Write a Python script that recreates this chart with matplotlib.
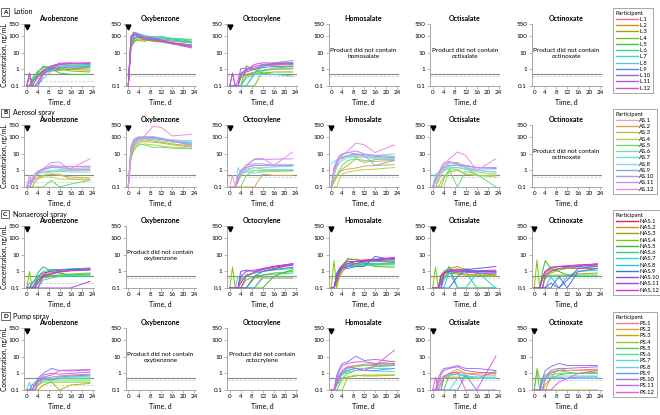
import matplotlib
matplotlib.use('Agg')
import matplotlib.pyplot as plt
from matplotlib.lines import Line2D

plt.rcParams['font.family'] = ['Liberation Sans Narrow', 'Lato', 'DejaVu Sans']

# ---------------- data ----------------
days = [0, 1, 2, 3, 4, 6, 9, 12, 16, 23]
ingredients = ['Avobenzone', 'Oxybenzone', 'Octocrylene', 'Homosalate', 'Octisalate', 'Octinoxate']
products = ['Lotion', 'Aerosol spray', 'Nonaerosol spray', 'Pump spray']
panel_letters = ['A', 'B', 'C', 'D']
prefixes = ['L', 'AS', 'NAS', 'PS']
y_ticks = [0.1, 1, 10, 100, 550]
y_ticklabels = ['0.1', '1', '10', '100', '550']
x_ticks = [0, 4, 8, 12, 16, 20, 24]
threshold = 0.5
lloq = [0.2, 0.4, 0.4, 0.4, 0.4, 0.4]

lotion_avobenzone = [
    [0.1, 0.1, 0.2, 0.3, 0.5, 0.9, 1.2, 1.6, 1.8, 2.0],
    [0.1, 0.1, 0.1, 0.2, 0.3, 0.6, 0.9, 1.0, 1.1, 1.2],
    [0.1, 0.1, 0.15, 0.3, 0.4, 0.7, 0.8, 0.9, 1.0, 0.9],
    [0.1, 0.3, 0.2, 0.3, 0.6, 1.6, 1.3, 1.1, 0.8, 0.7],
    [0.1, 0.1, 0.3, 0.5, 0.7, 1.4, 1.1, 0.6, 0.5, 0.5],
    [0.1, 0.1, 0.2, 0.4, 0.8, 1.2, 1.5, 2.0, 1.8, 2.0],
    [0.1, 0.1, 0.1, 0.1, 0.2, 0.5, 1.0, 1.3, 1.2, 1.4],
    [0.1, 0.1, 0.1, 0.1, 0.1, 0.3, 0.8, 1.5, 1.6, 1.7],
    [0.1, 0.1, 0.2, 0.3, 0.4, 0.8, 1.1, 1.2, 1.4, 1.5],
    [0.1, 0.6, 0.1, 0.2, 0.4, 0.9, 1.7, 2.2, 2.3, 2.4],
    [0.1, 0.1, 0.1, 0.1, 0.1, 0.5, 1.2, 2.0, 2.2, 2.6],
    [0.1, 0.6, 0.1, 0.1, 0.15, 0.7, 1.4, 2.4, 2.5, 2.2],
]
lotion_oxybenzone = [
    [0.1, 60, 120, 150, 130, 90, 70, 60, 50, 40],
    [0.1, 40, 70, 90, 80, 60, 55, 50, 40, 30],
    [0.1, 30, 50, 60, 70, 60, 50, 45, 35, 25],
    [0.1, 20, 40, 60, 55, 50, 70, 100, 70, 50],
    [0.1, 50, 80, 90, 100, 70, 60, 70, 60, 45],
    [0.1, 70, 150, 140, 120, 100, 90, 80, 70, 60],
    [0.1, 90, 180, 160, 140, 110, 95, 90, 75, 65],
    [0.1, 40, 100, 130, 110, 90, 80, 70, 55, 40],
    [0.1, 25, 60, 80, 90, 70, 60, 50, 40, 30],
    [0.1, 60, 110, 120, 100, 80, 70, 55, 40, 25],
    [0.1, 80, 130, 110, 90, 70, 60, 50, 35, 20],
    [0.1, 100, 170, 140, 120, 90, 80, 60, 40, 22],
]
lotion_octocrylene = [
    [0.1, 0.1, 0.1, 0.1, 0.4, 0.8, 1.2, 1.6, 1.8, 2.0],
    [0.1, 0.1, 0.1, 0.1, 0.3, 0.5, 0.7, 0.9, 1.0, 1.1],
    [0.1, 0.1, 0.1, 0.1, 0.1, 0.4, 0.6, 0.6, 0.7, 0.7],
    [0.1, 0.1, 0.1, 0.1, 0.1, 0.1, 0.1, 0.8, 1.2, 1.5],
    [0.1, 0.1, 0.1, 0.1, 0.1, 1.6, 1.0, 0.6, 0.5, 0.5],
    [0.1, 0.1, 0.1, 0.1, 0.1, 0.1, 0.6, 1.5, 2.5, 3.5],
    [0.1, 0.1, 0.1, 0.1, 0.1, 0.1, 0.5, 0.9, 1.0, 1.2],
    [0.1, 0.1, 0.1, 0.1, 0.1, 0.3, 0.5, 0.5, 0.5, 0.4],
    [0.1, 0.1, 0.1, 0.1, 0.4, 0.7, 1.0, 1.3, 1.5, 1.6],
    [0.1, 0.6, 0.1, 0.1, 0.5, 1.0, 1.5, 2.0, 2.2, 2.4],
    [0.1, 0.1, 0.1, 0.2, 1.1, 1.2, 1.0, 1.8, 2.0, 2.2],
    [0.1, 0.6, 0.1, 0.1, 0.6, 0.9, 2.0, 2.5, 2.4, 2.6],
]
aerosol_avobenzone = [
    [0.1, 0.3, 0.2, 0.5, 0.8, 1.2, 1.5, 1.4, 1.3, 1.4],
    [0.1, 0.1, 0.1, 0.2, 0.3, 0.5, 0.6, 0.5, 0.4, 0.35],
    [0.1, 0.1, 0.2, 0.3, 0.4, 0.5, 0.6, 0.6, 0.3, 0.3],
    [0.1, 0.1, 0.1, 0.2, 0.3, 0.4, 0.4, 0.3, 0.3, 0.25],
    [0.1, 0.1, 0.1, 0.1, 0.1, 0.1, 0.25, 0.1, 0.15, 0.25],
    [0.1, 0.2, 0.3, 0.7, 0.8, 0.7, 0.8, 0.9, 0.8, 0.8],
    [0.1, 0.2, 0.3, 0.4, 0.6, 0.9, 1.0, 1.1, 1.1, 1.0],
    [0.1, 0.3, 0.4, 0.5, 0.6, 0.8, 0.9, 1.0, 1.0, 1.1],
    [0.1, 0.2, 0.3, 0.5, 0.8, 1.1, 1.5, 1.6, 1.7, 1.8],
    [0.1, 0.1, 0.2, 0.4, 0.7, 1.2, 1.8, 1.8, 1.7, 1.6],
    [0.1, 0.1, 0.3, 0.5, 0.9, 1.3, 3.0, 3.2, 1.0, 1.2],
    [0.1, 0.5, 0.2, 0.4, 0.8, 1.1, 2.0, 1.5, 1.3, 5.0],
]
aerosol_oxybenzone = [
    [0.1, 20, 60, 80, 90, 100, 90, 80, 60, 40],
    [0.1, 10, 30, 50, 60, 70, 60, 50, 40, 30],
    [0.1, 8, 25, 40, 50, 55, 50, 45, 35, 25],
    [0.1, 5, 15, 25, 35, 40, 35, 30, 25, 22],
    [0.1, 6, 18, 30, 40, 35, 25, 25, 22, 20],
    [0.1, 12, 40, 60, 70, 80, 70, 60, 50, 45],
    [0.1, 25, 70, 90, 100, 100, 90, 80, 70, 60],
    [0.1, 30, 80, 100, 110, 90, 80, 75, 65, 55],
    [0.1, 15, 50, 70, 80, 90, 85, 75, 60, 45],
    [0.1, 20, 60, 80, 100, 110, 100, 80, 60, 35],
    [0.1, 18, 50, 70, 90, 100, 110, 90, 60, 30],
    [0.1, 15, 40, 60, 80, 120, 450, 400, 120, 150],
]
aerosol_octocrylene = [
    [0.1, 0.5, 0.1, 0.3, 0.8, 1.5, 2.0, 2.0, 1.8, 2.0],
    [0.1, 0.1, 0.1, 0.1, 0.1, 0.1, 0.1, 0.6, 0.5, 0.5],
    [0.1, 0.1, 0.1, 0.2, 0.5, 1.0, 1.5, 1.2, 1.0, 1.0],
    [0.1, 0.1, 0.1, 0.1, 0.1, 0.1, 0.1, 0.1, 0.1, 0.1],
    [0.1, 0.1, 0.1, 0.1, 0.1, 0.5, 1.0, 0.9, 0.9, 1.0],
    [0.1, 0.1, 0.1, 0.5, 0.7, 0.9, 1.0, 1.0, 1.1, 1.1],
    [0.1, 0.1, 0.1, 1.5, 0.6, 0.8, 0.7, 0.8, 0.9, 0.9],
    [0.1, 0.1, 0.1, 0.3, 0.6, 1.2, 1.5, 1.5, 1.6, 1.8],
    [0.1, 0.1, 0.1, 0.2, 0.8, 1.5, 2.0, 2.0, 2.1, 2.2],
    [0.1, 0.1, 0.1, 0.3, 0.9, 2.0, 2.5, 2.5, 2.0, 2.0],
    [0.1, 0.1, 0.1, 0.4, 1.0, 2.0, 4.5, 4.5, 4.8, 5.0],
    [0.1, 0.1, 0.1, 0.2, 0.8, 2.0, 5.0, 5.5, 2.0, 13],
]
aerosol_homosalate = [
    [0.1, 1.0, 3.0, 5.0, 6.0, 7.0, 8.0, 7.0, 6.0, 6.0],
    [0.1, 0.3, 0.5, 0.8, 1.0, 1.2, 1.4, 1.8, 2.0, 2.2],
    [0.1, 0.2, 0.4, 0.8, 1.2, 2.0, 5.0, 4.0, 3.5, 4.0],
    [0.1, 0.1, 0.1, 0.3, 0.6, 0.8, 1.0, 1.1, 1.2, 1.5],
    [0.1, 0.2, 0.5, 1.0, 2.0, 4.0, 5.0, 3.0, 4.5, 5.0],
    [0.1, 0.5, 1.5, 3.0, 5.0, 8.0, 6.0, 6.5, 5.0, 4.5],
    [2.5, 3.5, 4.0, 5.0, 6.0, 8.0, 9.0, 9.0, 8.0, 10.0],
    [0.1, 1.0, 2.0, 3.0, 4.0, 6.0, 7.0, 7.0, 6.0, 5.0],
    [0.1, 1.2, 3.0, 5.0, 6.0, 8.0, 10.0, 8.0, 2.0, 4.0],
    [0.1, 1.5, 4.0, 8.0, 10.0, 12.0, 15.0, 10.0, 8.0, 7.0],
    [0.1, 1.0, 3.0, 6.0, 9.0, 12.0, 10.0, 9.0, 7.0, 6.0],
    [0.1, 0.8, 2.0, 5.0, 8.0, 15.0, 45.0, 35.0, 12.0, 35.0],
]
aerosol_octisalate = [
    [0.1, 0.3, 0.5, 1.0, 1.5, 2.0, 2.0, 1.5, 1.0, 0.8],
    [0.1, 0.1, 0.2, 0.5, 1.0, 3.0, 3.0, 1.5, 0.5, 0.5],
    [0.1, 0.1, 0.1, 0.2, 0.4, 0.8, 1.0, 0.6, 0.5, 0.5],
    [0.1, 0.1, 0.1, 0.1, 0.1, 1.0, 1.2, 0.6, 0.5, 0.4],
    [0.1, 0.1, 0.1, 0.1, 0.3, 1.2, 0.1, 0.9, 0.6, 0.1],
    [0.1, 0.1, 0.3, 0.6, 1.0, 1.3, 1.5, 1.2, 0.8, 0.6],
    [0.1, 0.5, 0.6, 0.8, 1.0, 1.5, 1.5, 1.2, 1.0, 0.8],
    [0.1, 0.6, 0.8, 1.0, 1.2, 1.8, 2.0, 1.5, 1.2, 1.2],
    [0.1, 0.3, 0.6, 1.0, 1.5, 2.0, 2.2, 1.8, 1.5, 1.4],
    [0.1, 0.2, 0.5, 1.2, 2.0, 3.0, 2.5, 2.0, 1.5, 1.3],
    [0.1, 0.2, 0.6, 1.5, 3.0, 3.5, 2.5, 2.0, 1.5, 1.5],
    [0.1, 0.2, 0.5, 1.0, 2.0, 5.0, 13.0, 8.0, 1.0, 5.0],
]
nonaerosol_avobenzone = [
    [0.1, 0.1, 0.2, 0.3, 0.5, 0.8, 1.0, 1.2, 1.4, 1.6],
    [0.1, 0.1, 0.1, 0.2, 0.4, 0.6, 0.8, 1.0, 1.2, 1.5],
    [0.1, 0.1, 0.1, 0.1, 0.2, 0.4, 0.5, 0.6, 0.6, 0.7],
    [0.1, 1.0, 0.1, 0.1, 0.3, 0.5, 0.6, 0.6, 0.7, 0.8],
    [0.1, 0.1, 0.2, 0.3, 0.8, 1.9, 1.0, 0.8, 0.6, 0.6],
    [0.1, 0.1, 0.1, 0.2, 0.4, 0.6, 0.6, 0.5, 0.5, 0.5],
    [0.1, 0.1, 0.1, 0.1, 0.1, 0.3, 0.4, 0.5, 0.6, 0.7],
    [0.1, 0.2, 0.2, 0.3, 0.5, 1.0, 1.2, 1.3, 1.4, 1.5],
    [0.1, 0.1, 0.1, 0.1, 0.2, 0.6, 1.3, 1.2, 1.3, 1.4],
    [0.1, 0.1, 0.1, 0.15, 0.3, 0.5, 0.7, 0.9, 1.1, 1.3],
    [0.1, 0.1, 0.1, 0.1, 0.1, 0.1, 0.1, 0.1, 0.1, 0.25],
    [0.1, 0.1, 0.1, 0.1, 0.1, 0.5, 0.8, 1.0, 1.1, 1.2],
]
nonaerosol_octocrylene = [
    [0.1, 0.1, 0.1, 0.1, 0.2, 0.6, 0.8, 1.0, 1.5, 2.5],
    [0.1, 0.1, 0.1, 0.1, 0.1, 0.1, 0.1, 0.4, 0.4, 0.4],
    [0.1, 0.1, 0.1, 0.1, 0.1, 0.1, 0.4, 0.5, 0.5, 0.5],
    [0.1, 1.8, 0.1, 0.1, 0.1, 0.3, 0.5, 0.6, 0.8, 1.0],
    [0.1, 0.1, 0.1, 0.1, 0.1, 0.1, 0.1, 0.1, 0.5, 1.3],
    [0.1, 0.1, 0.1, 0.1, 0.3, 0.5, 0.5, 0.6, 0.7, 0.8],
    [0.1, 0.1, 0.1, 0.5, 0.4, 0.6, 0.8, 1.0, 1.2, 1.5],
    [0.1, 0.1, 0.1, 0.1, 0.1, 0.1, 0.1, 0.5, 0.5, 0.5],
    [0.1, 0.1, 0.1, 0.1, 0.1, 0.1, 0.5, 1.0, 1.3, 1.8],
    [0.1, 0.1, 0.1, 0.1, 1.0, 1.2, 1.0, 1.3, 1.8, 2.5],
    [0.1, 0.1, 0.1, 0.1, 0.5, 1.0, 1.2, 1.5, 2.0, 3.0],
    [0.1, 0.1, 0.1, 0.1, 0.1, 0.5, 0.9, 1.3, 2.0, 2.8],
]
nonaerosol_homosalate = [
    [0.1, 0.1, 0.3, 0.8, 1.5, 3.0, 4.0, 4.0, 4.5, 5.0],
    [0.1, 0.1, 0.5, 1.5, 2.5, 5.0, 5.5, 4.5, 4.0, 4.0],
    [0.1, 0.1, 0.2, 0.5, 1.0, 2.0, 2.5, 3.0, 3.0, 3.5],
    [0.1, 4.5, 0.1, 0.5, 1.0, 2.0, 2.2, 2.4, 2.5, 3.0],
    [0.1, 0.1, 0.3, 1.0, 2.0, 6.0, 5.0, 3.0, 2.0, 1.8],
    [0.1, 0.1, 0.5, 1.2, 2.0, 3.0, 3.0, 2.5, 2.5, 2.5],
    [0.1, 0.1, 0.4, 1.0, 1.5, 2.0, 2.0, 2.5, 3.0, 3.0],
    [0.1, 0.1, 0.6, 1.5, 1.8, 2.5, 3.0, 3.5, 4.0, 4.0],
    [0.1, 0.1, 0.8, 1.5, 2.0, 1.5, 2.0, 2.0, 8.0, 5.0],
    [0.1, 0.1, 0.4, 1.0, 1.5, 2.0, 3.0, 4.0, 5.0, 6.0],
    [0.1, 0.1, 0.5, 1.2, 2.0, 4.0, 4.0, 4.5, 5.0, 6.5],
    [0.1, 0.1, 0.3, 0.8, 1.5, 3.0, 4.0, 5.0, 5.5, 7.0],
]
nonaerosol_octisalate = [
    [0.1, 0.1, 0.1, 0.6, 0.8, 1.2, 1.4, 1.0, 1.0, 1.0],
    [0.1, 0.1, 0.1, 0.5, 1.0, 1.5, 2.0, 1.2, 0.8, 0.6],
    [0.1, 0.1, 0.1, 0.1, 0.5, 0.8, 0.7, 0.6, 0.6, 0.6],
    [0.1, 1.8, 0.1, 0.1, 0.4, 1.0, 0.8, 0.7, 0.6, 0.5],
    [0.1, 0.1, 0.1, 0.3, 0.6, 2.0, 0.1, 0.1, 0.1, 0.1],
    [0.1, 0.1, 0.1, 0.2, 1.0, 1.5, 1.2, 1.0, 0.1, 0.1],
    [0.1, 0.1, 0.1, 0.1, 0.3, 0.8, 1.0, 1.5, 1.0, 0.1],
    [0.1, 0.1, 0.1, 0.1, 0.1, 1.0, 0.1, 0.1, 0.8, 0.7],
    [0.1, 0.1, 0.1, 0.1, 0.1, 0.1, 0.5, 1.2, 1.0, 0.9],
    [0.1, 0.1, 0.1, 0.5, 0.8, 1.0, 1.2, 1.3, 1.5, 2.0],
    [0.1, 0.1, 0.1, 0.1, 0.7, 1.0, 0.9, 1.0, 1.1, 1.2],
    [0.1, 0.1, 0.1, 0.2, 0.8, 1.2, 1.0, 0.9, 0.8, 0.8],
]
nonaerosol_octinoxate = [
    [0.1, 0.1, 0.1, 0.5, 1.0, 1.5, 2.0, 2.0, 2.2, 2.5],
    [0.1, 0.1, 0.1, 0.3, 0.8, 1.2, 1.5, 1.5, 1.5, 1.5],
    [0.1, 0.1, 0.1, 0.1, 0.4, 0.6, 0.6, 0.6, 0.7, 0.8],
    [0.1, 5.0, 0.1, 0.1, 0.5, 0.8, 1.2, 1.5, 2.0, 3.0],
    [0.1, 0.1, 0.1, 1.0, 4.5, 1.5, 1.0, 0.6, 0.5, 0.5],
    [0.1, 0.1, 0.1, 0.5, 0.6, 0.5, 0.5, 0.5, 0.6, 0.6],
    [0.1, 0.1, 0.1, 0.1, 0.5, 1.0, 1.5, 1.6, 1.8, 2.0],
    [0.1, 0.1, 0.1, 0.1, 0.1, 0.5, 0.1, 0.5, 1.0, 1.2],
    [0.1, 0.1, 0.1, 0.1, 0.1, 0.1, 0.5, 0.1, 1.0, 1.5],
    [0.1, 0.1, 0.1, 0.1, 0.1, 0.2, 0.1, 0.3, 1.5, 2.0],
    [0.1, 0.1, 0.1, 0.4, 1.0, 1.8, 2.0, 2.2, 2.5, 2.8],
    [0.1, 0.1, 0.1, 0.1, 0.6, 1.0, 1.5, 1.8, 2.0, 2.5],
]
pump_avobenzone = [
    [0.1, 0.1, 0.1, 0.2, 0.3, 0.5, 0.6, 0.7, 0.8, 0.9],
    [0.1, 0.1, 0.1, 0.1, 0.2, 0.4, 0.5, 0.5, 0.5, 0.5],
    [0.1, 0.1, 0.1, 0.1, 0.1, 0.2, 0.3, 0.1, 0.2, 0.25],
    [0.1, 0.1, 0.1, 0.2, 0.3, 0.4, 0.4, 0.4, 0.4, 0.4],
    [0.1, 0.1, 0.1, 0.1, 0.2, 0.3, 0.3, 0.3, 0.3, 0.3],
    [0.1, 0.1, 0.2, 0.3, 0.4, 0.5, 0.5, 0.5, 0.5, 0.5],
    [0.1, 0.1, 0.2, 0.3, 0.3, 0.4, 0.4, 0.5, 0.6, 0.6],
    [0.1, 0.3, 0.1, 0.2, 0.4, 0.6, 0.5, 0.5, 0.6, 0.7],
    [0.1, 0.1, 0.2, 0.2, 0.3, 0.5, 0.4, 0.6, 0.7, 0.8],
    [0.1, 0.1, 0.1, 0.2, 0.5, 1.0, 2.0, 1.5, 1.6, 1.7],
    [0.1, 0.1, 0.1, 0.2, 0.4, 0.8, 1.0, 0.9, 1.0, 1.2],
    [0.1, 0.1, 0.1, 0.1, 0.3, 0.6, 0.8, 1.5, 1.4, 1.6],
]
pump_homosalate = [
    [0.1, 0.1, 0.3, 0.8, 1.5, 2.5, 3.0, 3.0, 3.5, 4.0],
    [0.1, 0.1, 0.2, 0.5, 1.0, 2.0, 3.0, 3.5, 4.0, 5.5],
    [0.1, 0.1, 0.2, 0.3, 0.5, 0.6, 0.7, 0.8, 0.8, 0.8],
    [0.1, 0.1, 0.1, 0.1, 0.1, 0.6, 0.8, 0.7, 0.7, 0.8],
    [0.1, 0.1, 0.1, 0.2, 0.5, 1.0, 1.5, 2.0, 2.5, 3.0],
    [0.1, 0.1, 0.3, 0.8, 1.2, 2.0, 2.5, 3.0, 3.0, 3.0],
    [0.1, 0.1, 0.2, 0.5, 0.8, 1.2, 1.5, 1.5, 1.4, 1.3],
    [0.1, 0.1, 0.4, 0.8, 1.0, 1.5, 2.0, 2.0, 2.0, 2.0],
    [0.1, 0.1, 0.2, 0.5, 1.0, 1.5, 2.0, 1.5, 1.5, 2.0],
    [0.1, 0.1, 0.8, 2.0, 4.0, 5.0, 11.0, 6.0, 7.0, 5.0],
    [0.1, 0.1, 0.5, 1.5, 3.0, 4.0, 5.0, 5.0, 4.0, 3.5],
    [0.1, 0.1, 0.3, 0.8, 1.5, 2.5, 2.0, 1.5, 3.0, 25.0],
]
pump_octisalate = [
    [0.1, 0.1, 0.2, 0.5, 0.7, 1.0, 1.2, 1.0, 0.8, 0.8],
    [0.1, 0.1, 0.1, 0.3, 0.6, 1.0, 1.8, 1.0, 1.0, 1.2],
    [0.1, 0.1, 0.1, 0.1, 0.5, 0.6, 0.6, 0.5, 0.5, 0.5],
    [0.1, 0.1, 0.1, 0.1, 0.1, 0.1, 0.1, 0.1, 0.1, 0.1],
    [0.1, 0.1, 0.1, 0.1, 0.1, 0.8, 1.0, 0.6, 0.5, 1.3],
    [0.1, 0.1, 0.1, 0.3, 0.5, 0.8, 0.9, 0.7, 0.6, 0.6],
    [0.1, 0.1, 0.1, 0.2, 0.5, 0.7, 1.0, 0.8, 0.5, 0.5],
    [0.1, 0.1, 0.1, 0.1, 0.1, 0.1, 0.5, 0.6, 0.6, 0.5],
    [0.1, 0.1, 0.1, 0.1, 0.1, 0.1, 0.1, 0.8, 0.1, 0.1],
    [0.1, 0.1, 0.5, 1.2, 2.0, 2.2, 3.0, 2.0, 2.0, 1.5],
    [0.1, 0.1, 0.3, 0.8, 1.5, 2.0, 2.5, 1.5, 1.2, 1.0],
    [0.1, 0.6, 0.1, 0.1, 0.6, 1.0, 1.2, 0.1, 0.1, 11.0],
]
pump_octinoxate = [
    [0.1, 0.1, 0.1, 0.3, 0.6, 1.0, 1.5, 1.5, 1.6, 1.8],
    [0.1, 0.1, 0.1, 0.1, 0.1, 0.5, 2.0, 1.5, 1.5, 1.6],
    [0.1, 0.1, 0.1, 0.1, 0.2, 0.5, 0.8, 1.0, 1.0, 1.2],
    [0.1, 2.0, 0.5, 0.1, 0.1, 0.1, 0.1, 0.1, 0.1, 0.1],
    [0.1, 1.5, 0.1, 0.5, 0.8, 1.2, 1.5, 1.2, 1.0, 1.0],
    [0.1, 0.1, 0.1, 0.3, 0.5, 0.8, 1.0, 1.0, 1.0, 1.0],
    [0.1, 0.1, 0.1, 0.3, 0.5, 0.6, 0.7, 0.7, 0.7, 0.7],
    [0.1, 0.1, 0.1, 0.1, 0.5, 0.6, 0.6, 0.5, 0.5, 0.5],
    [0.1, 0.1, 0.1, 0.5, 0.5, 0.5, 0.5, 0.5, 0.6, 0.6],
    [0.1, 0.1, 0.1, 0.5, 1.5, 2.5, 4.0, 3.0, 3.0, 3.0],
    [0.1, 0.1, 0.1, 0.1, 0.5, 1.5, 2.0, 2.0, 2.2, 2.5],
    [0.1, 0.1, 0.1, 0.1, 0.1, 0.1, 0.3, 0.5, 1.0, 1.5],
]

panels = [
    [lotion_avobenzone, lotion_oxybenzone, lotion_octocrylene, None, None, None],
    [aerosol_avobenzone, aerosol_oxybenzone, aerosol_octocrylene, aerosol_homosalate, aerosol_octisalate, None],
    [nonaerosol_avobenzone, None, nonaerosol_octocrylene, nonaerosol_homosalate, nonaerosol_octisalate, nonaerosol_octinoxate],
    [pump_avobenzone, None, None, pump_homosalate, pump_octisalate, pump_octinoxate],
]

# ---------------- styles ----------------
palettes = [
    ['#e8708a', '#c8901e', '#a8a000', '#78c010', '#3cc83c', '#3cd888', '#3cd8c0', '#50c8ee', '#4c8ee0', '#8c6ce0', '#b85ae0', '#e048d8'],
    ['#f4a0b4', '#d8a850', '#c0b840', '#a8d850', '#70d870', '#70e0a8', '#70e0d0', '#88d8f4', '#88a8f0', '#a898f0', '#c890f0', '#f088e8'],
    ['#dc2848', '#e08818', '#a8a000', '#80c800', '#30c030', '#30d080', '#30d8c8', '#30c0f0', '#3080e0', '#8050e0', '#b040e0', '#e030d0'],
    ['#f07890', '#e8a040', '#b8b000', '#88d020', '#50d050', '#50e090', '#50e0d0', '#60d0f8', '#6098f0', '#9878f0', '#c068f0', '#f058e0'],
]

W, H = 660, 415
fig = plt.figure(figsize=(W / 100, H / 100), dpi=100)
col_left = [24, 125.5, 227, 328.5, 430, 531.5]
row_top = [24, 125, 226, 328]
ax_w, ax_h = 70, 62
spine_c = '#9a9a9a'

for r in range(4):
    for c in range(6):
        ax = fig.add_axes([col_left[c] / W, 1 - (row_top[r] + ax_h) / H, ax_w / W, ax_h / H])
        ax.set_yscale('log')
        ax.set_xlim(-1, 24.5)
        ax.set_ylim(0.1, 550)
        ax.set_yticks(y_ticks)
        ax.set_yticklabels(y_ticklabels)
        ax.minorticks_off()
        ax.set_xticks(x_ticks)
        for s in ['top', 'right']:
            ax.spines[s].set_visible(False)
        for s in ['left', 'bottom']:
            ax.spines[s].set_color(spine_c)
            ax.spines[s].set_linewidth(0.6)
        ax.tick_params(length=2, width=0.5, color=spine_c, labelsize=4.5, pad=1.2)
        ax.axhline(threshold, color='#8a8a8a', lw=0.8, zorder=1)
        ax.axhline(lloq[c], color='#cfcfcf', lw=0.6, ls=(0, (3, 2)), zorder=1)
        ax.set_title(ingredients[c], fontsize=5, fontweight='bold', pad=2)
        ax.set_xlabel('Time, d', fontsize=5, labelpad=2.5)
        if c == 0:
            ax.set_ylabel('Concentration, ng/mL', fontsize=4.8)
            ax.yaxis.set_label_coords(-0.225, 0.5)
        data = panels[r][c]
        if data is None:
            ax.text(0.5, 0.52, 'Product did not contain\n' + ingredients[c].lower(),
                    transform=ax.transAxes, ha='center', va='center', fontsize=4.6, linespacing=1.2)
        else:
            for i, series in enumerate(data):
                ax.plot(days, series, color=palettes[r][i], lw=0.7, clip_on=False, zorder=2)
            ax.plot([0], [380], marker='v', color='black', ms=3.5, clip_on=False, zorder=5)

    # section label
    y_lab = 1 - (row_top[r] - 12) / H
    fig.text(3 / W, y_lab, panel_letters[r], fontsize=4.6, fontweight='bold', va='center', ha='left',
             bbox=dict(boxstyle='square,pad=0.3', fc='white', ec='#333333', lw=0.5))
    fig.text(13 / W, y_lab, products[r], fontsize=5, va='center', ha='left')

    # legend
    handles = [Line2D([], [], color=palettes[r][i], lw=1) for i in range(12)]
    labels = ['%s.%d' % (prefixes[r], i + 1) for i in range(12)]
    leg = fig.legend(handles, labels, title='Participant', loc='upper left',
                     bbox_to_anchor=(613 / W, 1 - (row_top[r] - 16) / H),
                     fontsize=4.2, title_fontsize=4.2, frameon=True, fancybox=False,
                     edgecolor=spine_c, framealpha=1, labelspacing=0.2,
                     handlelength=3.8, handletextpad=0.25, borderpad=0.45, borderaxespad=0)
    leg._legend_box.align = 'left'
    leg.get_frame().set_linewidth(0.6)

fig.savefig('out.png', dpi=100)
